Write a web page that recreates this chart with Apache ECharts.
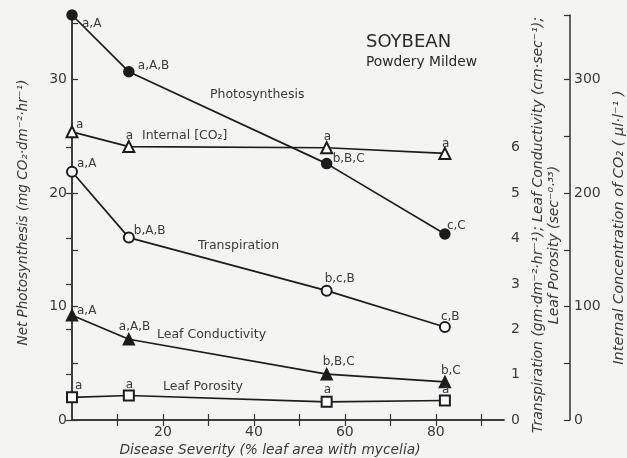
<!DOCTYPE html>
<html>
<head>
<meta charset="utf-8">
<script src="https://cdn.jsdelivr.net/npm/echarts@6/dist/echarts.min.js"></script>
<style>
html,body{margin:0;padding:0;background:#f4f4f2;}
#c{width:627px;height:458px;}
</style>
</head>
<body>
<div id="c"></div>
<script>
// ---- data ----
var severity = [0, 12.5, 56, 82];
var photosynthesis = [35.7, 30.7, 22.6, 16.4];
var internalCO2 = [254, 241, 240, 235];
var transpiration = [5.47, 4.02, 2.85, 2.05];
var conductivity = [2.31, 1.78, 1.01, 0.84];
var porosity = [0.50, 0.54, 0.40, 0.43];

var photoLetters = ['a,A', 'a,A,B', 'b,B,C', 'c,C'];
var co2Letters = ['a', 'a', 'a', 'a'];
var transLetters = ['a,A', 'b,A,B', 'b,c,B', 'c,B'];
var condLetters = ['a,A', 'a,A,B', 'b,B,C', 'b,C'];
var poroLetters = ['a', 'a', 'a', 'a'];

var xTickValues = [10, 20, 30, 40, 50, 60, 70, 80, 90];
var xLabelValues = [20, 40, 60, 80];
var leftTickValues = [0, 5, 10, 15, 20, 25, 30, 35];
var leftLabelValues = [0, 10, 20, 30];
var rightTickValues = [0, 1, 2, 3, 4, 5, 6];
var co2TickValues = [0, 50, 100, 150, 200, 250, 300, 357];
var co2LabelValues = [0, 100, 200, 300];

// ---- layout / style ----
var INK = '#1c1c1c';
var TXT = '#3a3a3a';
var FONT = 'DejaVu Sans';

// label offsets (pixels, relative to the point centre: left edge, middle)
var photoOff = [[10, 9], [9, -6], [6, -5], [2, -8]];
var co2Off = [[4, -7], [-3, -11], [-3, -11], [-3, -10]];
var transOff = [[5, -8], [5, -7], [-2, -12], [-4, -10]];
var condOff = [[5, -4], [-10, -12], [-4, -12], [-4, -11]];
var poroOff = [[3, -11], [-3, -11], [-3, -12], [-3, -11]];

function build(values, letters, offs) {
  return values.map(function (v, i) {
    return {
      value: [severity[i], v],
      label: {
        show: true,
        position: 'inside',
        align: 'left',
        verticalAlign: 'middle',
        offset: offs[i],
        formatter: letters[i],
        color: TXT,
        fontFamily: FONT,
        fontSize: 12
      }
    };
  });
}

function lineSeries(name, yIdx, sym, size, values, letters, offs) {
  return {
    name: name,
    type: 'line',
    yAxisIndex: yIdx,
    symbol: sym,
    symbolSize: size,
    clip: false,
    lineStyle: {color: INK, width: 1.7},
    itemStyle: {color: INK, borderColor: INK, borderWidth: 1.5},
    emphasis: {disabled: true},
    z: 3,
    data: build(values, letters, offs)
  };
}

var tickStyle = {color: '#333', width: 1.2};
var lineAx = {show: true, lineStyle: {color: '#333', width: 1.5}};
var labStyle = {color: TXT, fontFamily: FONT, fontSize: 14};

var chart = echarts.init(document.getElementById('c'));
chart.setOption({
  backgroundColor: '#f4f4f2',
  animation: false,
  grid: {left: 72, right: 123, top: 15, bottom: 38, containLabel: false, outerBoundsMode: 'none'},
  xAxis: [{
    type: 'value', min: 0, max: 95, position: 'bottom',
    axisLine: lineAx,
    axisTick: {show: true, inside: true, length: 6, lineStyle: tickStyle, customValues: xTickValues},
    axisLabel: Object.assign({customValues: xLabelValues, margin: 5}, labStyle),
    splitLine: {show: false},
    name: 'Disease Severity (% leaf area with mycelia)',
    nameLocation: 'middle', nameGap: 21,
    nameTextStyle: {color: TXT, fontFamily: FONT, fontStyle: 'italic', fontSize: 13.8, padding: [0, 0, 0, -36]}
  }, {
    type: 'value', min: 0, max: 95, position: 'top',
    axisLine: lineAx,
    axisTick: {show: true, inside: true, length: 6, lineStyle: tickStyle, customValues: xTickValues},
    axisLabel: {show: false},
    splitLine: {show: false}
  }],
  yAxis: [{
    type: 'value', min: 0, max: 35.7, position: 'left',
    axisLine: lineAx,
    axisTick: {show: true, inside: true, length: 6, lineStyle: tickStyle, customValues: leftTickValues},
    axisLabel: Object.assign({customValues: leftLabelValues, margin: 5}, labStyle),
    splitLine: {show: false},
    name: 'Net Photosynthesis (mg CO₂·dm⁻²·hr⁻¹)',
    nameLocation: 'middle', nameGap: 42, nameRotate: 90,
    nameTextStyle: {color: TXT, fontFamily: FONT, fontStyle: 'italic', fontSize: 13.5, padding: [0, 0, 0, 10]}
  }, {
    type: 'value', min: 0, max: 8.925, position: 'right',
    axisLine: lineAx,
    axisTick: {show: true, inside: true, length: 6, lineStyle: tickStyle, customValues: rightTickValues},
    axisLabel: Object.assign({customValues: rightTickValues, margin: 7}, labStyle),
    splitLine: {show: false}
  }, {
    type: 'value', min: 0, max: 357, position: 'right', offset: 66,
    axisLine: lineAx,
    axisTick: {show: true, inside: true, length: 6, lineStyle: tickStyle, customValues: co2TickValues},
    axisLabel: Object.assign({customValues: co2LabelValues, margin: 4}, labStyle),
    splitLine: {show: false},
    name: 'Internal Concentration of CO₂ ( µl·l⁻¹ )',
    nameLocation: 'middle', nameGap: 40, nameRotate: 90,
    nameTextStyle: {color: TXT, fontFamily: FONT, fontStyle: 'italic', fontSize: 14.5, padding: [0, 0, 0, -20]}
  }],
  series: [
    lineSeries('Photosynthesis', 0, 'circle', 10, photosynthesis, photoLetters, photoOff),
    lineSeries('Internal CO2', 2, 'emptyTriangle', 11, internalCO2, co2Letters, co2Off),
    lineSeries('Transpiration', 1, 'emptyCircle', 10, transpiration, transLetters, transOff),
    lineSeries('Leaf Conductivity', 1, 'triangle', 11, conductivity, condLetters, condOff),
    lineSeries('Leaf Porosity', 1, 'emptyRect', 10, porosity, poroLetters, poroOff)
  ],
  graphic: [
    {type: 'text', left: 366, top: 33, style: {text: 'SOYBEAN', fill: '#2a2a2a', font: '18px "DejaVu Sans"'}},
    {type: 'text', left: 366, top: 55, style: {text: 'Powdery Mildew', fill: '#2a2a2a', font: '13.8px "DejaVu Sans"'}},
    {type: 'text', left: 210, top: 88, style: {text: 'Photosynthesis', fill: TXT, font: '12.5px "DejaVu Sans"'}},
    {type: 'text', left: 142, top: 129, style: {text: 'Internal [CO₂]', fill: TXT, font: '12.5px "DejaVu Sans"'}},
    {type: 'text', left: 198, top: 239, style: {text: 'Transpiration', fill: TXT, font: '12.5px "DejaVu Sans"'}},
    {type: 'text', left: 157, top: 328, style: {text: 'Leaf Conductivity', fill: TXT, font: '12.5px "DejaVu Sans"'}},
    {type: 'text', left: 163, top: 380, style: {text: 'Leaf Porosity', fill: TXT, font: '12.5px "DejaVu Sans"'}},
    {type: 'text', x: 538, y: 225, rotation: Math.PI / 2,
     style: {text: 'Transpiration (gm·dm⁻²·hr⁻¹); Leaf Conductivity (cm·sec⁻¹);', fill: TXT,
             font: 'italic 14px "DejaVu Sans"', align: 'center', verticalAlign: 'middle'}},
    {type: 'text', x: 554, y: 245, rotation: Math.PI / 2,
     style: {text: 'Leaf Porosity (sec⁻⁰·³³)', fill: TXT,
             font: 'italic 14px "DejaVu Sans"', align: 'center', verticalAlign: 'middle'}}
  ]
});
</script>
</body>
</html>
